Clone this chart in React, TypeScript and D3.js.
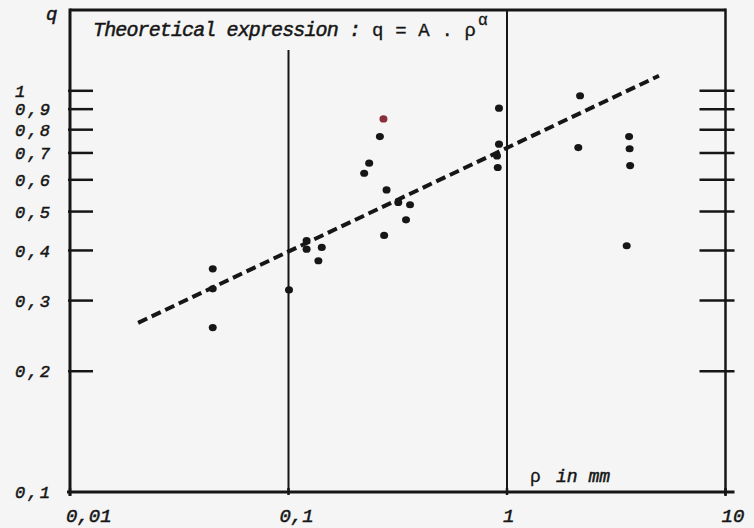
import React from 'react'
import { scaleLog, line } from 'd3'

// measured points (rho in mm, q)
const rhoValues = [
  0.045, 0.045, 0.045, 0.1005, 0.121, 0.121, 0.142, 0.137,
  0.272, 0.262, 0.234, 0.222, 0.281, 0.318, 0.36, 0.345, 0.274,
  0.919, 0.919, 0.9, 0.907,
  2.16, 2.12, 3.62, 3.64, 3.66, 3.53,
]
const qValues = [
  0.36, 0.321, 0.257, 0.319, 0.423, 0.403, 0.407, 0.377,
  0.851, 0.769, 0.66, 0.623, 0.566, 0.527, 0.52, 0.477, 0.436,
  0.905, 0.736, 0.688, 0.644,
  0.972, 0.722, 0.769, 0.717, 0.651, 0.411,
]
// the one dot that came out reddish in the scan
const redIndex = 8

// theoretical fit, end points of the dashed line
const fitRho = [0.0205, 4.96]
const fitQ = [0.264, 1.09]

const yTicks = [0.2, 0.3, 0.4, 0.5, 0.6, 0.7, 0.8, 0.9, 1]
const yLabels = ['0,1', '0,2', '0,3', '0,4', '0,5', '0,6', '0,7', '0,8', '0,9', '1']
const yLabelValues = [0.1, 0.2, 0.3, 0.4, 0.5, 0.6, 0.7, 0.8, 0.9, 1]
const xTicks = [0.01, 0.1, 1, 10]
const xLabels = ['0,01', '0,1', '1', '10']

const W = 754
const H = 528
const ink = '#161616'
const mono = '"Liberation Mono", "DejaVu Sans Mono", monospace'

// typewriter text is a bit heavier than the plain mono font
const heavy = { stroke: ink, strokeWidth: 0.5 }

export default function App() {
  const x = scaleLog().domain([0.01, 10]).range([70, 725.5])
  const y = scaleLog().domain([0.1, 1.59]).range([492, 10])

  const fitLine = line<number>()
    .x((d, i) => x(fitRho[i]))
    .y((d) => y(d))

  const left = x(0.01)
  const right = x(10)
  const bottom = y(0.1)
  const top = y(1.59)

  return (
    <div style={{ position: 'fixed', left: 0, top: 0 }}>
      <svg width={W} height={H} style={{ display: 'block', background: '#f4f5f4' }}>
        {/* frame */}
        <line x1={left} y1={top} x2={right} y2={top} stroke={ink} strokeWidth={3} />
        <line x1={left} y1={top - 1.5} x2={left} y2={bottom + 4} stroke={ink} strokeWidth={3} />
        <line x1={right} y1={top - 1.5} x2={right} y2={bottom + 4} stroke={ink} strokeWidth={2.5} />
        <line x1={left - 3} y1={bottom} x2={right + 9} y2={bottom} stroke={ink} strokeWidth={3} />

        {/* decade lines */}
        <line x1={x(0.1)} y1={50} x2={x(0.1)} y2={bottom} stroke={ink} strokeWidth={2} />
        <line x1={x(1)} y1={top} x2={x(1)} y2={bottom} stroke={ink} strokeWidth={2} />
        {xTicks.map((t) => (
          <line key={'bt' + t} x1={x(t)} y1={bottom - 4} x2={x(t)} y2={bottom + 3} stroke={ink} strokeWidth={2.5} />
        ))}

        {/* y ticks, both sides */}
        {yTicks.map((t) => (
          <g key={'yt' + t}>
            <line x1={left - 2} y1={y(t)} x2={left + 23} y2={y(t)} stroke={ink} strokeWidth={2.5} />
            <line x1={right - 26} y1={y(t)} x2={right + 9} y2={y(t)} stroke={ink} strokeWidth={2.5} />
          </g>
        ))}

        {/* y labels */}
        {yLabels.map((lab, i) => (
          <text
            key={'yl' + lab}
            x={15}
            y={y(yLabelValues[i])}
            dy="0.36em"
            fontFamily={mono}
            fontStyle="italic"
            fontSize={17}
            fill={ink}
            textLength={lab.length > 1 ? 35 : undefined}
            {...heavy}
          >
            {lab}
          </text>
        ))}

        {/* x labels */}
        {xLabels.map((lab, i) => (
          <text
            key={'xl' + lab}
            x={x(xTicks[i]) - (i === 1 ? 9 : 4)}
            y={522}
            fontFamily={mono}
            fontStyle="italic"
            fontSize={19}
            fill={ink}
            {...heavy}
          >
            {lab}
          </text>
        ))}

        {/* axis titles */}
        <text x={46} y={20} fontFamily={mono} fontStyle="italic" fontSize={19} fill={ink} {...heavy}>
          q
        </text>
        <text x={530} y={482} fontFamily={mono} fontSize={18} fill={ink} strokeWidth={0.3} stroke={ink}>
          ρ
        </text>
        <text x={556} y={482} fontFamily={mono} fontStyle="italic" fontSize={18} fill={ink} {...heavy}>
          in mm
        </text>

        {/* title */}
        <text x={93} y={36} fontFamily={mono} fontStyle="italic" fontSize={20} fill={ink} textLength={268} {...heavy}>
          Theoretical expression :
        </text>
        <text x={372} y={36} fontFamily={mono} fontSize={19} fill={ink} textLength={104} strokeWidth={0.3} stroke={ink}>
          q = A . ρ
        </text>
        <text x={478} y={25} fontFamily={mono} fontSize={16} fill={ink} strokeWidth={0.3} stroke={ink}>
          α
        </text>

        {/* fit */}
        <path
          d={fitLine(fitQ) || ''}
          fill="none"
          stroke={ink}
          strokeWidth={4}
          strokeDasharray="10 5"
        />

        {/* points */}
        {rhoValues.map((r, i) => (
          <ellipse
            key={'p' + i}
            cx={x(r)}
            cy={y(qValues[i])}
            rx={4}
            ry={3.6}
            fill={i === redIndex ? '#8a2e3c' : ink}
          />
        ))}
      </svg>
    </div>
  )
}
